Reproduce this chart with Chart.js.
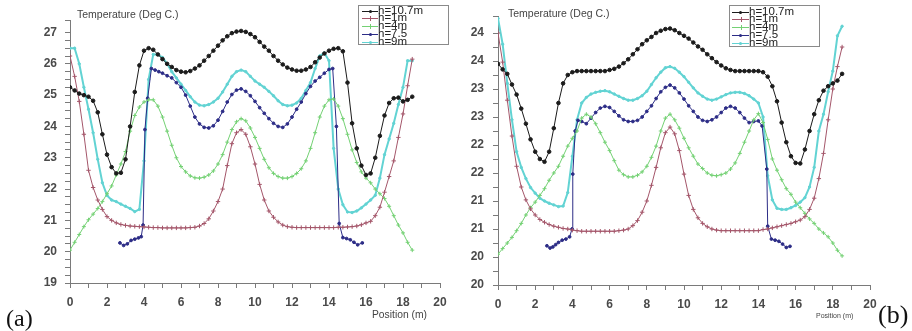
<!DOCTYPE html>
<html>
<head>
<meta charset="utf-8">
<script src="https://cdn.jsdelivr.net/npm/chart.js@4.4.0/dist/chart.umd.min.js"></script>
<style>
  html, body { margin: 0; padding: 0; background: #fff; }
  body { width: 912px; height: 331px; position: relative; overflow: hidden; font-family: "Liberation Sans", Arial, sans-serif; }
  canvas { position: absolute; top: 0; }
  #chartA { left: 0; }
  #chartB { left: 456px; }
  .lbl { position: absolute; white-space: nowrap; color: #444; line-height: 1; }
  .tag { position: absolute; font-family: "Liberation Serif", "Times New Roman", serif; color: #111; line-height: 1; }
  .legend { position: absolute; border: 1px solid #8a8a8a; background: #fff; box-sizing: border-box; }
  .entry { position: absolute; left: 0; height: 0; }
  .entry .line { position: absolute; height: 1px; top: 0; }
  .entry .mark { position: absolute; }
  .entry .txt { position: absolute; font-size: 11.5px; line-height: 1; top: -6px; color: #222; white-space: nowrap; }
</style>
</head>
<body>
<canvas id="chartA" width="456" height="331"></canvas>
<canvas id="chartB" width="456" height="331"></canvas>

<div class="lbl" style="left:77px;top:9px;font-size:10.5px;">Temperature (Deg C.)</div>
<div class="lbl" style="left:508px;top:8px;font-size:10.5px;">Temperature (Deg C.)</div>
<div class="lbl" style="left:372px;top:310px;font-size:10.3px;">Position (m)</div>
<div class="lbl" style="left:816px;top:312px;font-size:7px;">Position (m)</div>
<div class="tag" style="left:6px;top:306px;font-size:24px;">(a)</div>
<div class="tag" style="left:878px;top:302px;font-size:26px;">(b)</div>

<div class="legend" id="legA" style="left:358px;top:5px;width:91px;height:40px;"></div>
<div class="legend" id="legB" style="left:729px;top:5px;width:91px;height:42px;"></div>

<script>
// series names, legend order
const seriesNames = ['h=10.7m', 'h=1m', 'h=4m', 'h=7.5', 'h=9m'];

// common position grid (m) for the black, red, green and cyan curves
const positions = [0,0.25,0.5,0.75,1,1.25,1.5,1.75,2,2.25,2.5,2.75,3,3.25,3.5,3.75,
  4,4.25,4.5,4.75,5,5.25,5.5,5.75,6,6.25,6.5,6.75,7,7.25,7.5,7.75,8,8.25,8.5,8.75,
  9,9.25,9.5,9.75,10,10.25,10.5,10.75,11,11.25,11.5,11.75,12,12.25,12.5,12.75,
  13,13.25,13.5,13.75,14,14.25,14.5,14.75,15,15.25,15.5,15.75,16,16.25,16.5,16.75,
  17,17.25,17.5,17.75,18,18.25,18.5];

// ---- panel (a) ----
const tempA_h107 = [25.25,25.15,25.05,25.0, 24.95,24.82,24.45,23.75, 23.1,22.7,22.5,22.52,
  22.95,24.0,25.1,25.95, 26.42,26.5,26.45,26.3, 26.15,26.0,25.9,25.8, 25.75,25.73,25.77,25.85,
  25.95,26.1,26.25,26.42, 26.58,26.75,26.88,26.98, 27.03,27.05,27.02,26.95, 26.85,26.7,26.55,26.42,
  26.25,26.1,25.98,25.88, 25.82,25.78,25.78,25.82, 25.9,26.05,26.2,26.33, 26.42,26.48,26.5,26.4,
  25.4,24.1,23.3,22.75, 22.45,22.5,23.0,23.7, 24.35,24.75,24.9,24.92, 24.8,24.85,24.95];
const tempA_h1 = [26.25,25.6,24.8,23.75, 22.6,22.05,21.65,21.35, 21.12,21.0,20.92,20.87,
  20.84,20.82,20.81,20.8, 20.79,20.78,20.77,20.77, 20.76,20.76,20.76,20.76, 20.76,20.76,20.77,20.78,
  20.82,20.9,21.05,21.3, 21.6,22.0,22.75,23.45, 23.8,23.9,23.75,23.35, 22.8,22.15,21.65,21.3,
  21.1,20.95,20.85,20.8, 20.78,20.77,20.77,20.77, 20.77,20.77,20.77,20.77, 20.77,20.77,20.78,20.78,
  20.79,20.8,20.82,20.86, 20.92,20.97,21.15,21.42, 21.9,22.4,22.9,23.65, 24.4,25.3,26.15];
const tempA_h4 = [20.05,20.3,20.55,20.8, 21.02,21.2,21.38,21.6, 21.85,22.1,22.45,22.8,
  23.2,23.85,24.35,24.62, 24.78,24.85,24.85,24.65, 24.3,23.85,23.4,23.0, 22.72,22.55,22.42,22.36,
  22.35,22.38,22.45,22.58, 22.8,23.1,23.5,23.9, 24.15,24.25,24.18,23.95, 23.65,23.3,22.95,22.68,
  22.5,22.4,22.35,22.35, 22.4,22.5,22.65,22.9, 23.3,23.8,24.3,24.65, 24.85,24.88,24.65,24.25,
  23.75,23.25,22.85,22.55, 22.35,22.2,22.0,21.85, 21.7,21.45,21.15,20.85, 20.6,20.3,20.05];
const tempA_h9 = [26.5,26.5,26.0,25.25, 24.55,23.8,22.95,22.2, 21.8,21.65,21.6,21.52,
  21.45,21.38,21.28,21.35, 22.9,25.5,26.3,26.3, 26.2,26.0,25.75,25.55, 25.35,25.15,24.95,24.78,
  24.68,24.66,24.7,24.78, 24.9,25.1,25.35,25.6, 25.75,25.8,25.75,25.6, 25.45,25.35,25.25,25.12,
  24.98,24.82,24.7,24.66, 24.68,24.75,24.9,25.15, 25.4,25.85,26.25,26.35, 26.1,23.3,22.0,21.5,
  21.27,21.25,21.3,21.4, 21.52,21.65,21.8,22.35, 23.1,23.6,24.1,24.7, 25.25,26.1,26.1];
const posA_h75 = [2.7,2.9,3.1,3.3,3.5,3.7,3.85,3.95,4.05,4.2,4.4,4.6,4.8,5.0,
  5.25,5.5,5.75,6,6.25,6.5,6.75,7,7.25,7.5,7.75,8,8.25,8.5,8.75,9,9.25,9.5,9.75,10,
  10.25,10.5,10.75,11,11.25,11.5,11.75,12,12.25,12.5,12.75,13,13.25,13.5,13.75,14,
  14.2,14.4,14.55,14.75,14.95,15.15,15.35,15.55,15.8];
const tempA_h75 = [20.28,20.2,20.25,20.36,20.4,20.44,20.48,20.85,23.9,24.9,25.85,25.8,25.75,25.7,
  25.62,25.55,25.4,25.25,25.0,24.65,24.3,24.08,23.97,23.95,24.02,24.2,24.48,24.78,25.02,25.16,25.2,25.12,24.98,24.8,
  24.6,24.42,24.25,24.1,24.0,23.97,24.08,24.3,24.55,24.78,25.05,25.28,25.45,25.57,25.7,25.82,
  25.85,24.0,20.9,20.45,20.42,20.38,20.3,20.22,20.28];

// ---- panel (b) ----
const tempB_h107 = [23.95,23.85,23.77,23.58, 23.4,23.15,22.88,22.6, 22.38,22.25,22.2,22.38,
  22.8,23.25,23.6,23.75, 23.8,23.82,23.82,23.82, 23.82,23.82,23.82,23.82, 23.84,23.86,23.9,23.96,
  24.03,24.12,24.21,24.3, 24.37,24.43,24.5,24.54, 24.57,24.58,24.55,24.5, 24.45,24.4,24.33,24.26,
  24.2,24.12,24.05,23.98, 23.92,23.87,23.84,23.82, 23.82,23.82,23.82,23.82, 23.82,23.8,23.72,23.55,
  23.28,22.9,22.55,22.3, 22.18,22.17,22.42,22.75, 23.05,23.3,23.47,23.55, 23.6,23.65,23.77];
const tempB_h1 = [24.5,23.98,23.3,22.66, 22.12,21.75,21.52,21.36, 21.25,21.17,21.12,21.08,
  21.05,21.03,21.01,21.0, 20.98,20.97,20.96,20.96, 20.96,20.96,20.96,20.96, 20.96,20.96,20.97,20.98,
  21.0,21.06,21.15,21.3, 21.5,21.78,22.1,22.45, 22.72,22.82,22.7,22.4, 21.98,21.6,21.35,21.2,
  21.1,21.04,21.0,20.98, 20.97,20.97,20.97,20.97, 20.97,20.97,20.97,20.97, 20.97,20.99,21.0,21.02,
  21.04,21.06,21.08,21.1, 21.13,21.16,21.22,21.35, 21.55,21.9,22.35,22.95, 23.5,23.9,24.25];
const tempB_h4 = [20.55,20.65,20.75,20.85, 20.97,21.1,21.25,21.38, 21.48,21.6,21.72,21.87,
  22.0,22.12,22.3,22.48, 22.62,22.75,22.98,23.05, 23.0,22.88,22.72,22.55, 22.4,22.22,22.05,21.97,
  21.93,21.93,21.96,22.02, 22.12,22.28,22.48,22.75, 22.98,23.05,22.95,22.8, 22.62,22.45,22.3,22.16,
  22.08,22.0,21.96,21.95, 21.97,22.0,22.07,22.18, 22.35,22.55,22.75,22.95, 23.06,22.9,22.6,22.25,
  22.05,21.88,21.72,21.62, 21.48,21.38,21.28,21.18, 21.1,21.0,20.93,20.86, 20.75,20.62,20.52];
const tempB_h9 = [24.76,24.3,23.6,22.95, 22.38,22.1,21.9,21.74, 21.64,21.55,21.5,21.46,
  21.43,21.4,21.41,21.65, 22.3,22.95,23.25,23.35, 23.41,23.44,23.46,23.47, 23.45,23.41,23.37,23.33,
  23.3,23.3,23.33,23.38, 23.46,23.58,23.7,23.8, 23.88,23.9,23.87,23.8, 23.72,23.62,23.52,23.43,
  23.37,23.32,23.3,23.32, 23.36,23.4,23.43,23.44, 23.44,23.42,23.38,23.32, 23.25,23.0,21.95,21.52,
  21.37,21.35,21.35,21.38, 21.42,21.48,21.56,21.75, 22.1,22.75,23.05,23.45, 23.82,24.45,24.62];
const posB_h75 = [2.63,2.8,2.95,3.1,3.25,3.45,3.65,3.85,3.98,4.02,4.15,4.3,4.5,4.75,5.0,
  5.25,5.5,5.75,6,6.25,6.5,6.75,7,7.25,7.5,7.75,8,8.25,8.5,8.75,9,9.25,9.5,9.75,10,
  10.25,10.5,10.75,11,11.25,11.5,11.75,12,12.25,12.5,12.75,13,13.25,13.5,13.75,14,
  14.2,14.45,14.5,14.7,14.9,15.1,15.3,15.5,15.7];
const tempB_h75 = [20.7,20.66,20.68,20.72,20.76,20.8,20.82,20.86,21.0,21.98,22.75,22.94,22.92,22.88,22.98,
  23.08,23.16,23.19,23.17,23.1,23.02,22.95,22.92,22.92,22.94,23.0,23.1,23.2,23.33,23.45,23.53,23.57,23.52,23.43,23.32,
  23.2,23.1,23.0,22.94,22.92,22.95,23.0,23.08,23.16,23.19,23.16,23.08,22.98,22.9,22.92,22.93,
  22.84,22.07,21.05,20.82,20.8,20.78,20.73,20.67,20.69];

// tick labels
const xTickVals = [0,2,4,6,8,10,12,14,16,18,20];
const xTickLabels = ['0','2','4','6','8','10','12','14','16','18','20'];
const yTickValsA = [19,20,21,22,23,24,25,26,27];
const yTickLabelsA = ['19','20','21','22','23','24','25','26','27'];
const yTickValsB = [20,20.5,21,21.5,22,22.5,23,23.5,24,24.5];
const yTickLabelsB = ['20','20','21','21','22','22','23','23','24','24'];

// styles per series (same order as seriesNames)
const styles = [
  { color: '#1b1b1b', pointStyle: 'circle', radius: 1.8, width: 1 },
  { color: '#a4566a', pointStyle: 'cross', radius: 2.2, width: 1 },
  { color: '#74d174', pointStyle: 'cross', radius: 2, width: 1 },
  { color: '#2c2c86', pointStyle: 'circle', radius: 1.4, width: 1 },
  { color: '#62d3d3', pointStyle: 'circle', radius: 1.2, width: 2 }
];

function pts(xs, ys) {
  return xs.map((x, i) => ({ x: x, y: ys[i] }));
}

function makeDatasets(list) {
  return list.map((d, i) => ({
    label: seriesNames[i],
    data: pts(d[0], d[1]),
    borderColor: styles[i].color,
    backgroundColor: styles[i].color,
    borderWidth: styles[i].width,
    pointStyle: styles[i].pointStyle,
    pointRadius: styles[i].radius,
    pointBorderWidth: 1,
    pointHoverRadius: 0,
    tension: 0,
    fill: false
  }));
}

const tickFont = { family: '"Liberation Sans", Arial, sans-serif', size: 12, weight: 'bold' };

function makeChart(id, datasets, o) {
  return new Chart(document.getElementById(id), {
    type: 'line',
    data: { datasets: datasets },
    options: {
      responsive: false,
      animation: false,
      layout: { padding: { left: 0, top: o.top, right: o.right, bottom: 0 } },
      plugins: { legend: { display: false }, tooltip: { enabled: false } },
      scales: {
        x: {
          type: 'linear', min: 0, max: 20,
          afterFit: s => { s.height = o.xHeight; },
          ticks: {
            stepSize: 1, autoSkip: false, maxRotation: 0, padding: 7,
            color: '#4a4a4a', font: tickFont,
            callback: v => { const k = xTickVals.indexOf(v); return k < 0 ? '' : xTickLabels[k]; }
          },
          grid: { drawOnChartArea: false, tickLength: 5, color: '#7a7a7a' },
          border: { color: '#7a7a7a' }
        },
        y: {
          type: 'linear', min: o.min, max: o.max,
          afterFit: s => { s.width = o.yWidth; },
          ticks: {
            stepSize: 0.25, autoSkip: false, padding: o.yPad,
            color: '#4a4a4a', font: tickFont,
            callback: v => { const k = o.vals.indexOf(v); return k < 0 ? '' : o.labels[k]; }
          },
          grid: { drawOnChartArea: false, tickLength: 5, color: '#7a7a7a' },
          border: { color: '#7a7a7a' }
        }
      }
    }
  });
}

makeChart('chartA', makeDatasets([
  [positions, tempA_h107], [positions, tempA_h1], [positions, tempA_h4],
  [posA_h75, tempA_h75], [positions, tempA_h9]
]), { top: 20, right: 16, xHeight: 48, yWidth: 70, yPad: 8, min: 19, max: 27.4,
      vals: yTickValsA, labels: yTickLabelsA });

makeChart('chartB', makeDatasets([
  [positions, tempB_h107], [positions, tempB_h1], [positions, tempB_h4],
  [posB_h75, tempB_h75], [positions, tempB_h9]
]), { top: 11, right: 42, xHeight: 46, yWidth: 42, yPad: 9, min: 20, max: 24.8,
      vals: yTickValsB, labels: yTickLabelsB });

// legends
function buildLegend(id, lineLeft, lineW, firstY, stepY) {
  const box = document.getElementById(id);
  seriesNames.forEach((name, i) => {
    const st = styles[i];
    const e = document.createElement('div');
    e.className = 'entry';
    e.style.top = (firstY + i * stepY) + 'px';
    const ln = document.createElement('span');
    ln.className = 'line';
    ln.style.left = lineLeft + 'px';
    ln.style.width = lineW + 'px';
    ln.style.background = st.color;
    e.appendChild(ln);
    const mk = document.createElement('span');
    mk.className = 'mark';
    mk.style.background = st.color;
    if (st.pointStyle === 'circle') {
      mk.style.width = '3px'; mk.style.height = '3px'; mk.style.borderRadius = '50%';
      mk.style.left = (lineLeft + lineW / 2 - 1.5) + 'px'; mk.style.top = '-1px';
    } else {
      mk.style.width = '1px'; mk.style.height = '5px';
      mk.style.left = (lineLeft + lineW / 2) + 'px'; mk.style.top = '-2px';
    }
    e.appendChild(mk);
    const tx = document.createElement('span');
    tx.className = 'txt';
    tx.style.left = (lineLeft + lineW) + 'px';
    tx.textContent = name;
    e.appendChild(tx);
    box.appendChild(e);
  });
}
buildLegend('legA', 3, 16, 4.5, 7.75);
buildLegend('legB', 2, 17, 5.5, 7.75);
</script>
</body>
</html>
